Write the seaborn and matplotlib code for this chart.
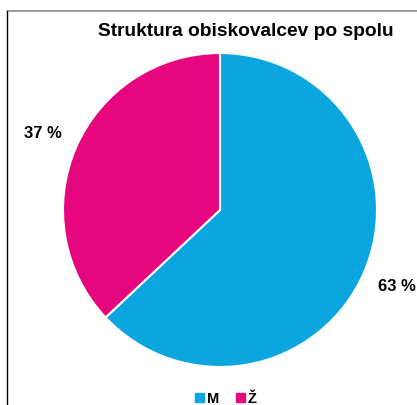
import matplotlib.pyplot as plt
import matplotlib.patches as mpatches
import seaborn as sns

categories = ["M", "Ž"]
shares = [63, 37]
title = "Struktura obiskovalcev po spolu"

sns.set_theme(style="white")
plt.rcParams['font.family'] = ['Liberation Sans', 'DejaVu Sans']
plt.rcParams['text.color'] = 'black'
colors = sns.color_palette(["#0BA5DF", "#E6077F"])

fig = plt.figure(figsize=(4.17, 4.05), dpi=100)
W, H = 417, 405

# outer chart frame (cut off at right and bottom)
fig.add_artist(plt.Line2D([7 / W, 1], [1 - 11 / H, 1 - 11 / H], color="#8c8c8c", lw=1.2))
fig.add_artist(plt.Line2D([7 / W, 7 / W], [0, 1 - 11 / H], color="black", lw=1.0))

cx, cy, r = 220, 210, 157
ax = fig.add_axes([(cx - r) / W, (H - cy - r) / H, 2 * r / W, 2 * r / H])
wedges, texts, autotexts = ax.pie(
    shares, colors=colors, startangle=90, counterclock=False,
    autopct=lambda p: f"{p:.0f} %", pctdistance=1.23,
    wedgeprops=dict(edgecolor="white", linewidth=1.5),
    textprops=dict(fontsize=12, fontweight="bold", color="black"),
)
ax.set_xlim(-1, 1)
ax.set_ylim(-1, 1)
ax.axis("off")

fig.text(246 / W, 1 - 31 / H, title, ha="center", va="center",
         fontsize=13.8, fontweight="bold", color="black")

handles = [mpatches.Patch(color=c, label=l) for c, l in zip(colors, categories)]
fig.legend(handles=handles, loc="center", bbox_to_anchor=(226 / W, 1 - 399 / H),
           ncol=2, frameon=False, handlelength=0.6, handleheight=0.6,
           handletextpad=0.2, columnspacing=1.2, labelcolor="black",
           prop=dict(size=10.5, weight="bold"))

fig.savefig("out.png", dpi=100)
